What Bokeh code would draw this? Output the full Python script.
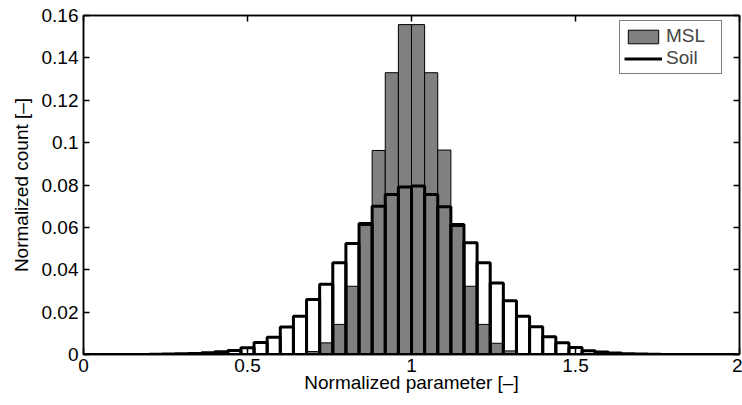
from bokeh.plotting import figure
from bokeh.models import (LinearAxis, FixedTicker, Range1d, Legend, LegendItem,
                          ColumnDataSource)
from bokeh.embed import file_html
from bokeh.resources import INLINE

# ---- data -----------------------------------------------------------------
bin_width = 0.04
bin_centers = [0.02, 0.06, 0.10, 0.14, 0.18, 0.22, 0.26, 0.30, 0.34, 0.38,
               0.42, 0.46, 0.50, 0.54, 0.58, 0.62, 0.66, 0.70, 0.74, 0.78,
               0.82, 0.86, 0.90, 0.94, 0.98, 1.02, 1.06, 1.10, 1.14, 1.18,
               1.22, 1.26, 1.30, 1.34, 1.38, 1.42, 1.46, 1.50, 1.54, 1.58,
               1.62, 1.66, 1.70, 1.74, 1.78, 1.82, 1.86, 1.90, 1.94, 1.98]

msl_counts = [0, 0, 0, 0, 0, 0, 0, 0, 0, 0,
              0, 0, 0, 0, 0, 0, 0.0003, 0.0014, 0.0055, 0.0142,
              0.0322, 0.0609, 0.0963, 0.1330, 0.1557, 0.1557, 0.1330, 0.0965, 0.0604, 0.0322,
              0.0142, 0.0053, 0.0017, 0.0003, 0, 0, 0, 0, 0, 0,
              0, 0, 0, 0, 0, 0, 0, 0, 0, 0]

soil_counts = [0, 0, 0, 0, 0, 0.0001, 0.0002, 0.0003, 0.0005, 0.0008,
               0.0013, 0.0019, 0.0032, 0.0057, 0.0081, 0.0130, 0.0181, 0.0260, 0.0331, 0.0433,
               0.0524, 0.0618, 0.0700, 0.0755, 0.0790, 0.0795, 0.0755, 0.0697, 0.0614, 0.0527,
               0.0433, 0.0338, 0.0254, 0.0180, 0.0131, 0.0084, 0.0055, 0.0033, 0.0018, 0.0012,
               0.0007, 0.0004, 0.0002, 0.0001, 0, 0, 0, 0, 0, 0]

x_ticks = [0, 0.5, 1, 1.5, 2]
x_tick_labels = ["0", "0.5", "1", "1.5", "2"]
y_ticks = [0, 0.02, 0.04, 0.06, 0.08, 0.10, 0.12, 0.14, 0.16]
y_tick_labels = ["0", "0.02", "0.04", "0.06", "0.08", "0.1", "0.12", "0.14", "0.16"]

series_names = ["MSL", "Soil"]
x_label = "Normalized parameter [\u2013]"
y_label = "Normalized count [\u2013]"

# ---- figure ---------------------------------------------------------------
FONT = "Liberation Sans"
FS = "19px"

p = figure(width=742, height=405, output_backend="svg", toolbar_location=None,
           x_range=Range1d(0, 2), y_range=Range1d(0, 0.16),
           min_border_left=83, min_border_right=3, min_border_top=15,
           min_border_bottom=51, x_axis_label=x_label, y_axis_label=y_label)
p.background_fill_color = "white"
p.border_fill_color = "white"
p.outline_line_color = "black"
p.outline_line_width = 1.5
p.xgrid.visible = False
p.ygrid.visible = False

src = ColumnDataSource(dict(x=bin_centers, msl=msl_counts, soil=soil_counts))

r_msl = p.vbar(x="x", top="msl", bottom=0, width=bin_width, source=src,
               fill_color="#808080", line_color="black", line_width=1)
r_soil = p.vbar(x="x", top="soil", bottom=0, width=bin_width, source=src,
                fill_color=None, line_color="black", line_width=3)
# invisible line renderer that only supplies the line glyph of the legend
r_soil_leg = p.line(x="x", y="soil", source=src, line_color="black",
                    line_width=3, visible=False)


def style_axis(ax, ticks, labels, show_labels=True):
    ax.ticker = FixedTicker(ticks=ticks)
    ax.major_label_overrides = {t: l for t, l in zip(ticks, labels)}
    ax.major_tick_in = 6
    ax.major_tick_out = 0
    ax.minor_tick_line_color = None
    ax.major_tick_line_color = "black"
    ax.major_tick_line_width = 1.5
    ax.axis_line_color = "black"
    ax.axis_line_width = 1.5
    ax.major_label_text_font = FONT
    if show_labels:
        ax.major_label_text_font_size = FS
        ax.major_label_text_color = "black"
    else:
        ax.major_label_text_font_size = "1px"
        ax.major_label_text_color = None
        ax.major_label_standoff = 0


style_axis(p.xaxis[0], x_ticks, x_tick_labels)
style_axis(p.yaxis[0], y_ticks, y_tick_labels)
p.xaxis[0].major_label_standoff = 4
p.yaxis[0].major_label_standoff = 5
for ax in (p.xaxis[0], p.yaxis[0]):
    ax.axis_label_text_font = FONT
    ax.axis_label_text_font_size = FS
    ax.axis_label_text_font_style = "normal"
    ax.axis_label_text_color = "black"
p.xaxis[0].axis_label_standoff = -3
p.yaxis[0].axis_label_standoff = 7

top_ax = LinearAxis()
right_ax = LinearAxis()
style_axis(top_ax, x_ticks, x_tick_labels, show_labels=False)
style_axis(right_ax, y_ticks, y_tick_labels, show_labels=False)
p.add_layout(top_ax, "above")
p.add_layout(right_ax, "right")

legend = Legend(items=[LegendItem(label=series_names[0], renderers=[r_msl]),
                       LegendItem(label=series_names[1], renderers=[r_soil_leg])],
                location=(536, 280))
legend.glyph_width = 38
legend.glyph_height = 17
legend.label_text_font = FONT
legend.label_text_font_size = FS
legend.label_height = 19
legend.label_width = 51
legend.label_standoff = 4
legend.padding = 4
legend.spacing = 0
legend.margin = 0
legend.border_line_color = "black"
legend.border_line_width = 1
legend.background_fill_color = "white"
legend.background_fill_alpha = 1
p.add_layout(legend)

open("out.html", "w").write(file_html(p, INLINE))
